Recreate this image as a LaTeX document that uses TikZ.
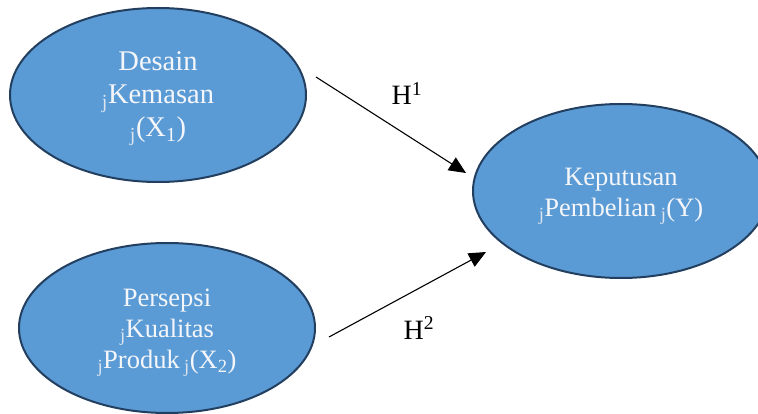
\documentclass[tikz,border=0pt]{standalone}
\usepackage{fontspec}
\setmainfont{Liberation Serif}
\usetikzlibrary{shapes.geometric,arrows.meta}
\definecolor{ellfill}{HTML}{5B9BD5}
\definecolor{elldraw}{HTML}{233F60}
\definecolor{elltext}{HTML}{F4F6FA}
\definecolor{jcol}{HTML}{DCE4EE}
\newcommand{\jj}{{\color{jcol}\textsubscript{j}}}
\begin{document}
\begin{tikzpicture}[x=1pt,y=-1pt,
  ell/.style={ellipse,draw=elldraw,fill=ellfill,line width=2pt,inner sep=0pt},
  etext/.style={align=center,text=elltext,inner sep=0pt},
  hyp/.style={-{Triangle[length=17pt,width=15pt]},line width=1.1pt,black},
  hlabel/.style={font=\fontsize{28}{33}\selectfont,inner sep=0pt,anchor=base}]
\useasboundingbox (0,0) rectangle (758,414);
\fill[white] (0,0) rectangle (758,414);
\node[ell,minimum width=296pt,minimum height=174pt] (x1) at (158,95) {};
\node[etext,font=\fontsize{28.5}{33}\selectfont] (x1t) at (158,99) {Desain\\\jj Kemasan\\\jj(X\textsubscript{1})};
\node[ell,minimum width=296pt,minimum height=170pt] (x2) at (167,328) {};
\node[etext,font=\fontsize{26.5}{31}\selectfont] (x2t) at (167,333) {Persepsi\\\jj Kualitas\\\jj Produk\,\jj(X\textsubscript{2})};
\node[ell,minimum width=296pt,minimum height=174pt] (y) at (621,191) {};
\node[etext,font=\fontsize{26.5}{31}\selectfont] (yt) at (621,196) {Keputusan\\\jj Pembelian\,\jj(Y)};
\coordinate (a1s) at (316,77);
\coordinate (a1e) at (466,173);
\coordinate (a2s) at (329,337);
\coordinate (a2e) at (486,252);
\draw[hyp] (a1s) -- (a1e);
\draw[hyp] (a2s) -- (a2e);
\node[hlabel] (h1) at (407,105) {H\textsuperscript{1}};
\node[hlabel] (h2) at (419,339) {H\textsuperscript{2}};
\end{tikzpicture}
\end{document}
